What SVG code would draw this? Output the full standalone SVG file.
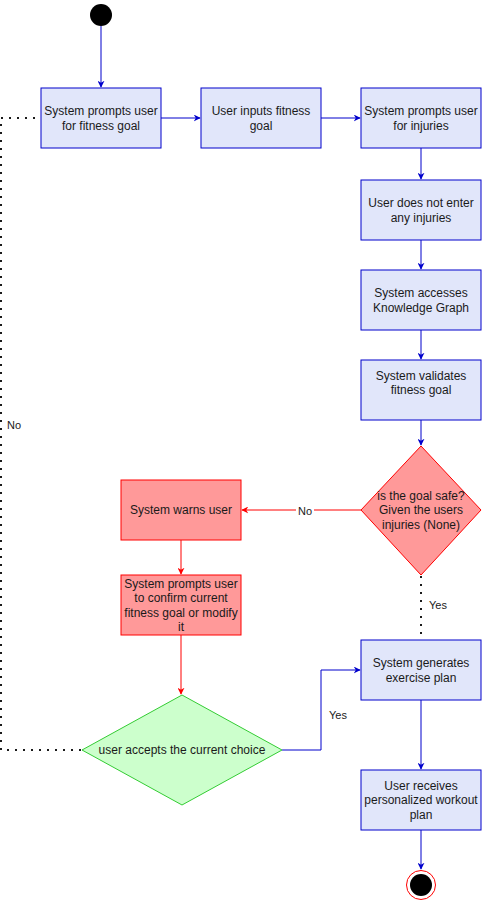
<svg xmlns="http://www.w3.org/2000/svg" width="482" height="901" viewBox="0 0 482 901">
<defs>
<style>
.box{fill:#E1E6FA;stroke:#0000CC;stroke-width:1;}
.rbox{fill:#FF9999;stroke:#FF0000;stroke-width:1;}
.gd{fill:#CCFFCC;stroke:#33CC33;stroke-width:1;}
.t{font-family:"Liberation Sans",Arial,sans-serif;font-size:12px;fill:#1a1a1a;text-anchor:middle;}
.lbl{font-family:"Liberation Sans",Arial,sans-serif;font-size:11px;fill:#1a1a1a;text-anchor:middle;}
.bl{fill:none;stroke:#0000CC;stroke-width:1;}
.rl{fill:none;stroke:#FF0000;stroke-width:1;}
.dl{fill:none;stroke:#1a1a1a;stroke-width:2;stroke-dasharray:2 6;}
</style>
<marker id="ab" viewBox="0 0 10 10" refX="9" refY="5" markerWidth="7" markerHeight="7" orient="auto" markerUnits="userSpaceOnUse"><path d="M0,0 L10,5 L0,10 L3,5 Z" fill="#0000CC"/></marker>
<marker id="ar" viewBox="0 0 10 10" refX="9" refY="5" markerWidth="7" markerHeight="7" orient="auto" markerUnits="userSpaceOnUse"><path d="M0,0 L10,5 L0,10 L3,5 Z" fill="#FF0000"/></marker>
</defs>
<rect width="482" height="901" fill="#ffffff"/>
<g id="connectors">
<path class="bl" d="M101,26 V87" marker-end="url(#ab)"/>
<path class="bl" d="M161,118 H200" marker-end="url(#ab)"/>
<path class="bl" d="M321,118 H360" marker-end="url(#ab)"/>
<path class="bl" d="M421,148 V179" marker-end="url(#ab)"/>
<path class="bl" d="M421,240 V269" marker-end="url(#ab)"/>
<path class="bl" d="M421,330 V359" marker-end="url(#ab)"/>
<path class="bl" d="M421,420 V445" marker-end="url(#ab)"/>
<path class="rl" d="M361,510 H242" marker-end="url(#ar)"/>
<rect x="296" y="504" width="18" height="13" fill="#ffffff"/>
<text class="lbl" x="305" y="515">No</text>
<path class="rl" d="M181,540 V574" marker-end="url(#ar)"/>
<path class="rl" d="M181,635 V694" marker-end="url(#ar)"/>
<path class="dl" d="M421,576 V640"/>
<text class="lbl" x="438" y="609">Yes</text>
<path class="bl" d="M282,750 H321 V670 H360" marker-end="url(#ab)"/>
<text class="lbl" x="338" y="719">Yes</text>
<path class="dl" d="M81,750 H1 V118 H37"/>
<text class="lbl" x="14" y="429">No</text>
<path class="bl" d="M421,700 V769" marker-end="url(#ab)"/>
<path class="bl" d="M421,830 V869" marker-end="url(#ab)"/>
</g>
<g id="start"><circle cx="101" cy="15" r="11" fill="#000000"/></g>
<g id="n1"><rect class="box" x="41" y="88" width="120" height="60"/><text class="t" x="101" y="115">System prompts user</text><text class="t" x="101" y="130">for fitness goal</text></g>
<g id="n2"><rect class="box" x="201" y="88" width="120" height="60"/><text class="t" x="261" y="115">User inputs fitness</text><text class="t" x="261" y="130">goal</text></g>
<g id="n3"><rect class="box" x="361" y="88" width="120" height="60"/><text class="t" x="421" y="115">System prompts user</text><text class="t" x="421" y="130">for injuries</text></g>
<g id="n4"><rect class="box" x="361" y="180" width="120" height="60"/><text class="t" x="421" y="207">User does not enter</text><text class="t" x="421" y="222">any injuries</text></g>
<g id="n5"><rect class="box" x="361" y="270" width="120" height="60"/><text class="t" x="421" y="297">System accesses</text><text class="t" x="421" y="312">Knowledge Graph</text></g>
<g id="n6"><rect class="box" x="361" y="360" width="120" height="60"/><text class="t" x="421" y="380">System validates</text><text class="t" x="421" y="394">fitness goal</text></g>
<g id="d1"><path class="rbox" d="M421,446 L481,510 L421,575 L361,510 Z"/><text class="t" x="421" y="500">is the goal safe?</text><text class="t" x="421" y="514">Given the users</text><text class="t" x="421" y="529">injuries (None)</text></g>
<g id="n7"><rect class="rbox" x="121" y="480" width="120" height="60"/><text class="t" x="181" y="514">System warns user</text></g>
<g id="n8"><rect class="rbox" x="121" y="575" width="120" height="60"/><text class="t" x="181" y="588">System prompts user</text><text class="t" x="181" y="602">to confirm current</text><text class="t" x="181" y="617">fitness goal or modify</text><text class="t" x="181" y="631">it</text></g>
<g id="d2"><path class="gd" d="M182,695 L282,750 L182,805 L82,750 Z"/><text class="t" x="182" y="754">user accepts the current choice</text></g>
<g id="n9"><rect class="box" x="361" y="640" width="120" height="60"/><text class="t" x="421" y="667">System generates</text><text class="t" x="421" y="682">exercise plan</text></g>
<g id="n10"><rect class="box" x="361" y="770" width="120" height="60"/><text class="t" x="421" y="790">User receives</text><text class="t" x="421" y="804">personalized workout</text><text class="t" x="421" y="819">plan</text></g>
<g id="end"><circle cx="421" cy="885" r="14.5" fill="#ffffff" stroke="#FF0000" stroke-width="1"/><circle cx="421" cy="885" r="11" fill="#000000"/></g>
</svg>
